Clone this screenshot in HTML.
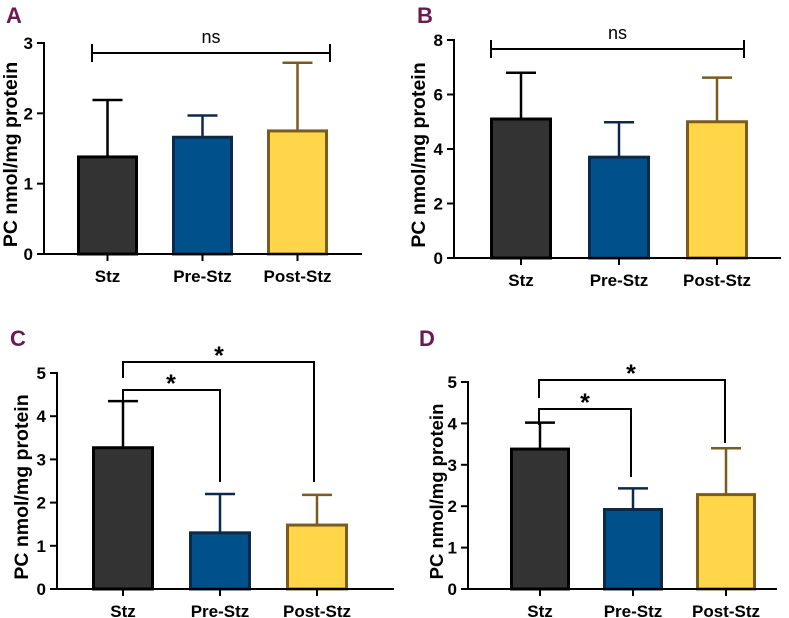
<!DOCTYPE html>
<html><head><meta charset="utf-8"><style>
body{margin:0;background:#fff;}
svg{display:block;font-family:"Liberation Sans",Arial,sans-serif;}
</style></head><body>
<svg id="chart" width="789" height="618" viewBox="0 0 789 618" xmlns="http://www.w3.org/2000/svg"></svg>
<script>
const categories = ["Stz","Pre-Stz","Post-Stz"];
const valuesA = [1.38, 1.66, 1.75];
const errorsA = [2.19, 1.97, 2.72];
const valuesB = [5.1, 3.7, 5.0];
const errorsB = [6.8, 4.98, 6.62];
const valuesC = [3.27, 1.3, 1.48];
const errorsC = [4.35, 2.2, 2.18];
const valuesD = [3.38, 1.92, 2.28];
const errorsD = [4.02, 2.43, 3.4];
const ticksA = [0,1,2,3];
const ticksB = [0,2,4,6,8];
const ticksC = [0,1,2,3,4,5];
const ticksD = [0,1,2,3,4,5];

const fills = ["#333333","#00508c","#ffd54a"];
const strokes = ["#000000","#0c2a48","#7a5c1e"];
const svg = document.getElementById('chart');
const NS = "http://www.w3.org/2000/svg";
function el(tag, attrs, parent){
  const e = document.createElementNS(NS, tag);
  for (const k in attrs) e.setAttribute(k, attrs[k]);
  (parent||svg).appendChild(e);
  return e;
}
function panel(p){
  const g = el('g', {});
  
  
  const ymax = p.ticks[p.ticks.length-1];
  const yS = v => p.y0 - (p.y0 - p.yTop) * v / ymax;
  const bw = p.bw;
  const cx = i => p.x1 + bw/2 + i*p.step;
  const lt = el('text', {x:p.lx, y:p.ly, 'font-size':22, 'font-weight':'bold', fill:'#6b1a4f'}, g);
  lt.textContent = p.letter;
  
  
  const yt = el('text', {x:0, y:0, 'font-size':p.ts, 'font-weight':'bold', fill:'#000', 'text-anchor':'middle', transform:`translate(${p.tx},${(p.y0+p.yTop)/2+6}) rotate(-90)`}, g);
  yt.textContent = "PC nmol/mg protein";
  
  
  p.values.forEach((v,i)=>{
    const x = cx(i);
    const err = el('line', {x1:x, x2:x, y1:yS(v), y2:yS(p.errors[i]), stroke:strokes[i], 'stroke-width':2.5}, g);
    
    
    const cap = el('line', {x1:x-15, x2:x+15, y1:yS(p.errors[i]), y2:yS(p.errors[i]), stroke:strokes[i], 'stroke-width':2.5}, g);
    
    
    const b = el('rect', {x:x-bw/2+1.5, y:yS(v), width:bw-3, height:p.y0-yS(v), fill:fills[i], stroke:strokes[i], 'stroke-width':3}, g);
    
    
    const tk = el('line', {x1:x, x2:x, y1:p.y0, y2:p.y0+7, stroke:'#000', 'stroke-width':2}, g);
    
    
    const tl = el('text', {x:x, y:p.y0+28, 'font-size':17, 'font-weight':'bold', 'text-anchor':'middle'}, g);
    tl.textContent = categories[i];
    
    
  });
  const ya = el('line', {x1:p.ax, x2:p.ax, y1:p.yTop-1, y2:p.y0+1, stroke:'#000', 'stroke-width':2}, g);
  
  
  const xa = el('line', {x1:p.ax-1, x2:p.axEnd, y1:p.y0, y2:p.y0, stroke:'#000', 'stroke-width':2}, g);
  
  
  p.ticks.forEach(t=>{
    const y = yS(t);
    const tk = el('line', {x1:p.ax-7, x2:p.ax, y1:y, y2:y, stroke:'#000', 'stroke-width':2}, g);
    
    
    const tl = el('text', {x:p.ax-11, y:y+6, 'font-size':17, 'font-weight':'bold', 'text-anchor':'end'}, g);
    tl.textContent = t;
    
    
  });
  if (p.ns){
    const [a,b,y] = p.ns;
    const br = el('path', {d:`M${a},${y} H${b} M${a},${y-9} V${y+9} M${b},${y-9} V${y+9}`, stroke:'#000', 'stroke-width':2, fill:'none'}, g);
    
    
    const t = el('text', {x:(a+b)/2, y:y-10, 'font-size':18, 'text-anchor':'middle'}, g);
    t.textContent = 'ns';
    
    
  }
  if (p.sig){
    p.sig.forEach(s=>{
      const br = el('path', {d:`M${s.a},${s.ya} V${s.y} H${s.b} V${s.yb}`, stroke:'#000', 'stroke-width':2, fill:'none'}, g);
      
      
      const t = el('text', {x:s.sx, y:s.y+2, 'font-size':25, 'font-weight':'bold', 'text-anchor':'middle'}, g);
      t.textContent = '*';
      
      
    });
  }
}
panel({letter:'A', lx:6, ly:23, tx:17, ts:19.5, values:valuesA, errors:errorsA, ticks:ticksA, ax:44, axEnd:362, y0:254, yTop:43, x1:77, bw:61, step:95, ns:[92,330,53]});
panel({letter:'B', lx:417, ly:23, tx:425, ts:19.5, values:valuesB, errors:errorsB, ticks:ticksB, ax:454, axEnd:781, y0:258, yTop:40, x1:490, bw:62, step:98, ns:[491,744,49]});
panel({letter:'C', lx:10, ly:346, tx:28, ts:19.5, values:valuesC, errors:errorsC, ticks:ticksC, ax:57, axEnd:394, y0:589, yTop:373, x1:92, bw:62, step:97,
  sig:[{a:123,b:314,y:362,ya:378,yb:482,sx:219},{a:123,b:220,y:390,ya:405,yb:482,sx:171}]});
panel({letter:'D', lx:419, ly:346, tx:443, ts:18.5, values:valuesD, errors:errorsD, ticks:ticksD, ax:468, axEnd:777, y0:589, yTop:382, x1:510, bw:60, step:93,
  sig:[{a:539,b:725,y:380,ya:398,yb:443,sx:631},{a:539,b:631,y:409,ya:425,yb:477,sx:585}]});
</script>
</body></html>
